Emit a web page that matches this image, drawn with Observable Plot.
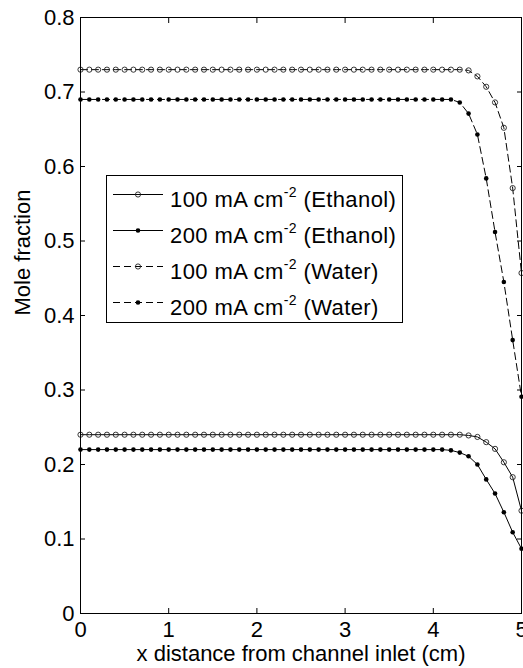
<!DOCTYPE html>
<html>
<head>
<meta charset="utf-8">
<script src="https://cdn.jsdelivr.net/npm/d3@7"></script>
<script src="https://cdn.jsdelivr.net/npm/@observablehq/plot@0.6"></script>
<style>
  html, body { margin: 0; padding: 0; background: #fff; }
  #chart { width: 523px; height: 668px; overflow: hidden; }
</style>
</head>
<body>
<div id="chart"></div>
<script>
// ---- data ----
const xPositions = [0,0.1,0.2,0.3,0.4,0.5,0.6,0.7,0.8,0.9,1,1.1,1.2,1.3,1.4,1.5,1.6,1.7,1.8,1.9,2,2.1,2.2,2.3,2.4,2.5,2.6,2.7,2.8,2.9,3,3.1,3.2,3.3,3.4,3.5,3.6,3.7,3.8,3.9,4,4.1,4.2,4.3,4.4,4.5,4.6,4.7,4.8,4.9,5];

const ethanol100 = [0.24,0.24,0.24,0.24,0.24,0.24,0.24,0.24,0.24,0.24,0.24,0.24,0.24,0.24,0.24,0.24,0.24,0.24,0.24,0.24,0.24,0.24,0.24,0.24,0.24,0.24,0.24,0.24,0.24,0.24,0.24,0.24,0.24,0.24,0.24,0.24,0.24,0.24,0.24,0.24,0.24,0.24,0.24,0.240,0.239,0.237,0.230,0.221,0.203,0.183,0.138];
const ethanol200 = [0.22,0.22,0.22,0.22,0.22,0.22,0.22,0.22,0.22,0.22,0.22,0.22,0.22,0.22,0.22,0.22,0.22,0.22,0.22,0.22,0.22,0.22,0.22,0.22,0.22,0.22,0.22,0.22,0.22,0.22,0.22,0.22,0.22,0.22,0.22,0.22,0.22,0.22,0.22,0.22,0.22,0.22,0.219,0.216,0.211,0.200,0.180,0.161,0.136,0.109,0.087];
const water100 = [0.73,0.73,0.73,0.73,0.73,0.73,0.73,0.73,0.73,0.73,0.73,0.73,0.73,0.73,0.73,0.73,0.73,0.73,0.73,0.73,0.73,0.73,0.73,0.73,0.73,0.73,0.73,0.73,0.73,0.73,0.73,0.73,0.73,0.73,0.73,0.73,0.73,0.73,0.73,0.73,0.73,0.73,0.73,0.73,0.729,0.721,0.707,0.686,0.652,0.571,0.457];
const water200 = [0.69,0.69,0.69,0.69,0.69,0.69,0.69,0.69,0.69,0.69,0.69,0.69,0.69,0.69,0.69,0.69,0.69,0.69,0.69,0.69,0.69,0.69,0.69,0.69,0.69,0.69,0.69,0.69,0.69,0.69,0.69,0.69,0.69,0.69,0.69,0.69,0.69,0.69,0.69,0.69,0.69,0.69,0.69,0.686,0.671,0.643,0.584,0.512,0.445,0.367,0.291];

const seriesNames = ["100 mA cm-2 (Ethanol)", "200 mA cm-2 (Ethanol)", "100 mA cm-2 (Water)", "200 mA cm-2 (Water)"];
const legendMain = ["100 mA cm", "200 mA cm", "100 mA cm", "200 mA cm"];
const legendSup = ["-2", "-2", "-2", "-2"];
const legendSuffix = [" (Ethanol)", " (Ethanol)", " (Water)", " (Water)"];

const xTicks = [0,1,2,3,4,5];
const yTicks = [0,0.1,0.2,0.3,0.4,0.5,0.6,0.7,0.8];
const xLabel = "x distance from channel inlet (cm)";
const yLabel = "Mole fraction";

// ---- build table ----
const seriesValues = [ethanol100, ethanol200, water100, water200];
const seriesDashed = [false, false, true, true];
const seriesMarker = ["open", "filled", "open", "filled"];
const rows = seriesValues.flatMap((vals, s) => vals.map((v, i) => ({
  x: xPositions[i], y: v, series: seriesNames[s], dashed: seriesDashed[s], marker: seriesMarker[s]
})));

const FONT = "'Liberation Sans', Arial, Helvetica, sans-serif";
const DASH = "7,4";
const TICK = 5;

const plot = Plot.plot({
  width: 523,
  height: 668,
  marginLeft: 80,
  marginRight: 2,
  marginTop: 17,
  marginBottom: 55,
  style: { fontFamily: FONT, fontSize: "22px", color: "black", background: "white", overflow: "visible" },
  x: { domain: [0, 5] },
  y: { domain: [0, 0.8] },
  marks: [
    // inward tick marks on all four sides
    Plot.axisX(xTicks, { anchor: "bottom", tickSize: TICK, dy: -TICK, label: null, text: null }),
    Plot.axisX(xTicks, { anchor: "top", tickSize: TICK, dy: TICK, label: null, text: null }),
    Plot.axisY(yTicks, { anchor: "left", tickSize: TICK, dx: TICK, label: null, text: null }),
    Plot.axisY(yTicks, { anchor: "right", tickSize: TICK, dx: -TICK, label: null, text: null }),
    // tick labels
    Plot.axisX(xTicks, { anchor: "bottom", tickSize: 0, tickPadding: 8, label: null, tickFormat: d => String(d) }),
    Plot.axisY(yTicks, { anchor: "left", tickSize: 0, tickPadding: 6, label: null, tickFormat: d => String(d) }),
    Plot.line(rows.filter(d => !d.dashed), { x: "x", y: "y", z: "series", stroke: "black", strokeWidth: 1 }),
    Plot.line(rows.filter(d => d.dashed), { x: "x", y: "y", z: "series", stroke: "black", strokeWidth: 1, strokeDasharray: DASH }),
    Plot.dot(rows.filter(d => d.marker === "open"), { x: "x", y: "y", r: 2.6, stroke: "#222", strokeWidth: 0.9, fill: "none" }),
    Plot.dot(rows.filter(d => d.marker === "filled"), { x: "x", y: "y", r: 2.3, fill: "black", stroke: "none" }),
    Plot.frame({ stroke: "black", strokeWidth: 1 }),
    Plot.text([xLabel], { text: d => d, frameAnchor: "bottom", dy: 47, fontSize: 22 }),
    Plot.text([yLabel], { text: d => d, frameAnchor: "left", rotate: -90, dx: -58, fontSize: 22 })
  ]
});

document.getElementById("chart").appendChild(plot);

// ---- legend (inside the axes, like the MATLAB figure) ----
const svg = d3.select(plot);
const lg = svg.append("g").attr("font-family", FONT).attr("font-size", 22).attr("text-anchor", "start");
const box = { x: 106, y: 175, w: 296, h: 147 };
lg.append("rect").attr("x", box.x + 0.5).attr("y", box.y + 0.5).attr("width", box.w).attr("height", box.h)
  .attr("fill", "white").attr("stroke", "black").attr("stroke-width", 1);
const rowBase = [207, 243, 279, 315];
seriesNames.forEach((name, i) => {
  const ly = rowBase[i] - 12.5;
  lg.append("line").attr("x1", 113).attr("x2", 163).attr("y1", ly).attr("y2", ly)
    .attr("stroke", "black").attr("stroke-width", 1)
    .attr("stroke-dasharray", seriesDashed[i] ? DASH : null);
  if (seriesMarker[i] === "open") {
    lg.append("circle").attr("cx", 138).attr("cy", ly).attr("r", 2.6)
      .attr("fill", "none").attr("stroke", "#222").attr("stroke-width", 0.9);
  } else {
    lg.append("circle").attr("cx", 138).attr("cy", ly).attr("r", 2.3).attr("fill", "black");
  }
  const t = lg.append("text").attr("x", 170).attr("y", rowBase[i]).attr("fill", "black")
    .attr("letter-spacing", 0.4);
  t.append("tspan").text(legendMain[i]);
  t.append("tspan").attr("font-size", 14).attr("dy", -10).text(legendSup[i]);
  t.append("tspan").attr("dy", 10).text(legendSuffix[i]);
});
</script>
</body>
</html>
